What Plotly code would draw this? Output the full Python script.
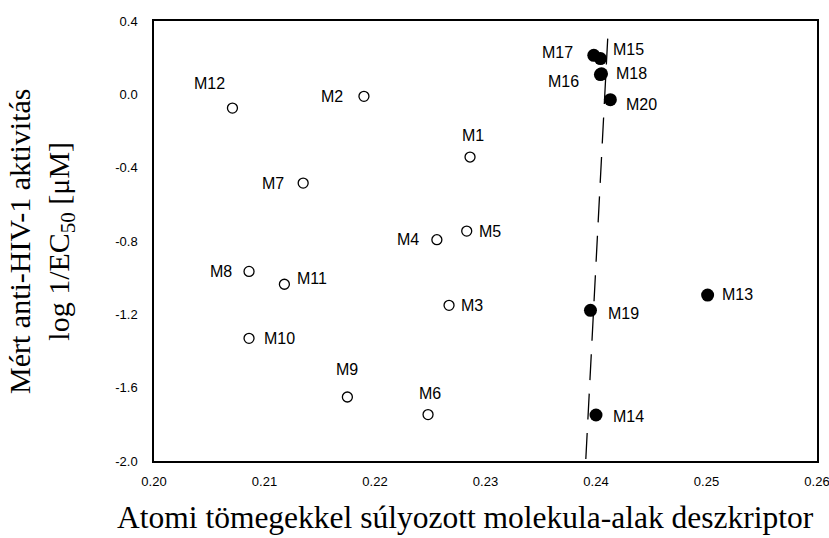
import plotly.graph_objects as go

# Compounds M1-M12: open markers
open_names = ["M1", "M2", "M3", "M4", "M5", "M6", "M7", "M8", "M9", "M10", "M11", "M12"]
open_x = [0.2286, 0.2190, 0.2267, 0.2256, 0.2283, 0.2248, 0.2135, 0.2086, 0.2175, 0.2086, 0.2118, 0.2071]
open_y = [-0.342, -0.011, -1.151, -0.793, -0.746, -1.747, -0.484, -0.966, -1.651, -1.331, -1.036, -0.075]

# Compounds M13-M20: filled markers
filled_names = ["M13", "M14", "M15", "M16", "M17", "M18", "M19", "M20"]
filled_x = [0.2501, 0.2400, 0.2404, 0.2404, 0.2398, 0.2405, 0.2395, 0.2413]
filled_y = [-1.095, -1.749, 0.195, 0.108, 0.213, 0.112, -1.178, -0.029]

# Dashed trend line (top end first)
trend_x = [0.24106, 0.23907]
trend_y = [0.304, -2.0]

x_ticks = [0.20, 0.21, 0.22, 0.23, 0.24, 0.25, 0.26]
y_ticks = [0.4, 0.0, -0.4, -0.8, -1.2, -1.6, -2.0]
y_ticktext = ["0.4", "0.0", "-0.4", "-0.8", "-1.2", "-1.6", "-2.0"]

# label offsets in pixels (dx, dy-up)
label_shift = {
    "M1": (3, 22), "M2": (-32, 0), "M3": (23, 0), "M4": (-29, 0), "M5": (23, 0),
    "M6": (2, 21), "M7": (-30, 0), "M8": (-28, 0), "M9": (0, 28), "M10": (30, 0),
    "M11": (28, 6), "M12": (-23, 25), "M13": (30, 1), "M14": (32, -2), "M15": (28, 9),
    "M16": (-37, -7), "M17": (-36, 3), "M18": (30, 0), "M19": (33, -3), "M20": (31, -5),
}

fig = go.Figure()

fig.add_trace(go.Scatter(
    x=trend_x, y=trend_y, mode="lines",
    line=dict(color="black", width=1.3, dash="26px,13.5px"),
    hoverinfo="skip", showlegend=False,
))

fig.add_trace(go.Scatter(
    x=open_x, y=open_y, mode="markers", text=open_names,
    marker=dict(symbol="circle", size=10, color="white",
                line=dict(color="black", width=1.3)),
    showlegend=False,
))

fig.add_trace(go.Scatter(
    x=filled_x, y=filled_y, mode="markers", text=filled_names,
    marker=dict(symbol="circle", size=13, color="black",
                line=dict(color="black", width=0)),
    showlegend=False,
))

for names, xs, ys in ((open_names, open_x, open_y), (filled_names, filled_x, filled_y)):
    for n, xv, yv in zip(names, xs, ys):
        dx, dy = label_shift[n]
        fig.add_annotation(
            x=xv, y=yv, text=n, showarrow=False,
            xshift=dx, yshift=dy,
            font=dict(family="Liberation Sans, Arial, sans-serif", size=16, color="black"),
        )

serif = "Liberation Serif, Times New Roman, serif"

fig.add_annotation(
    xref="paper", yref="paper", x=0.47, y=0, yshift=-56,
    xanchor="center", yanchor="middle", showarrow=False,
    text="Atomi tömegekkel súlyozott molekula-alak deszkriptor",
    font=dict(family=serif, size=31.5, color="black"),
)

fig.add_annotation(
    xref="paper", yref="paper", x=0, xshift=-113, y=0.5,
    xanchor="center", yanchor="middle", showarrow=False, textangle=-90,
    text="Mért anti-HIV-1 aktivitás<br>log 1/EC<sub>50</sub> [μM]",
    font=dict(family=serif, size=30, color="black"),
)

axis_font = dict(family="Liberation Sans, Arial, sans-serif", size=13, color="black")

fig.update_xaxes(
    range=[0.20, 0.26], tickvals=x_ticks, tickformat=".2f",
    showgrid=False, zeroline=False, showline=True, mirror=True,
    linecolor="black", linewidth=1.5, ticks="", ticklabelstandoff=8,
    tickfont=axis_font, automargin=False, ticklabeloverflow="allow",
)
fig.update_yaxes(
    range=[-2.0, 0.4], tickvals=y_ticks, ticktext=y_ticktext,
    showgrid=False, zeroline=False, showline=True, mirror=True,
    linecolor="black", linewidth=1.5, ticks="", ticklabelstandoff=12,
    tickfont=axis_font, automargin=False, ticklabeloverflow="allow",
)

fig.update_layout(
    width=829, height=538,
    margin=dict(l=154, r=12, t=21, b=77),
    paper_bgcolor="white", plot_bgcolor="white",
)

fig.write_html("out.html")
